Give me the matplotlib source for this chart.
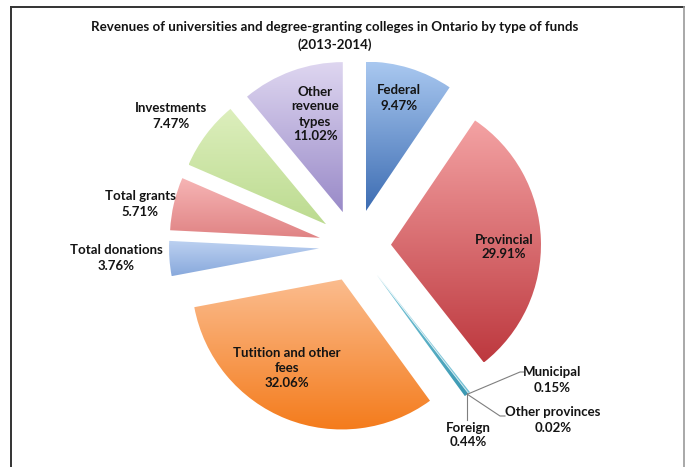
import numpy as np
import matplotlib
matplotlib.use("Agg")
import matplotlib.pyplot as plt
from matplotlib.colors import to_rgba
from matplotlib.lines import Line2D

# Revenue shares by type of funds, 2013-2014 (percent)
categories = ["Federal", "Provincial", "Municipal", "Other provinces", "Foreign",
              "Tutition and other\nfees", "Total donations", "Total grants",
              "Investments", "Other\nrevenue\ntypes"]
shares = [9.47, 29.91, 0.15, 0.02, 0.44, 32.06, 3.76, 5.71, 7.47, 11.02]

# Light (top) and deep (bottom) shade of each slice's gradient
top_colors = ["#a9c8f0", "#f4a3a4", "#a9dbe8", "#8fc6d8", "#7fcbdd",
              "#fbbc8e", "#bdd1f1", "#f6b5b5", "#ddefbd", "#ded6f0"]
bottom_colors = ["#3c6cb2", "#bd383e", "#6fbfd3", "#4a9fba", "#3a98b2",
                 "#f47b1b", "#88a9dc", "#e08384", "#bcdb90", "#998ac8"]

W, H = 688, 467
fig = plt.figure(figsize=(W / 100, H / 100), dpi=100)
ax = fig.add_axes([0, 0, 1, 1])

FONT = ["Lato", "DejaVu Sans"]
TXT = "#141414"

center = (355, H - 246)
radius = 150
offset = 36

wedges, _ = ax.pie(shares, startangle=90, counterclock=False,
                   explode=[offset] * len(shares), radius=radius, center=center,
                   frame=True)

# Vertical gradient fill clipped to each wedge
for w, c0, c1 in zip(wedges, top_colors, bottom_colors):
    verts = w.get_patch_transform().transform(w.get_path().vertices)
    x0, y0 = verts.min(axis=0)
    x1, y1 = verts.max(axis=0)
    t = np.linspace(0, 1, 256)[:, None]
    a, b = np.array(to_rgba(c0)), np.array(to_rgba(c1))
    grad = (a[None, :] * (1 - t) + b[None, :] * t)[:, None, :]
    im = ax.imshow(grad, extent=[x0, x1, y0, y1], origin="upper",
                   aspect="auto", interpolation="bilinear", zorder=1)
    im.set_clip_path(w)
    w.set_facecolor("none")
    w.set_edgecolor("none")

ax.set_xlim(0, W)
ax.set_ylim(0, H)
ax.set_aspect("equal")
ax.axis("off")

def pct(v):
    return f"{v:.2f}%"

# Label centres (pixels from top-left)
label_pos = {
    0: (399, 98),
    1: (504, 247),
    5: (287, 368),
    9: (315, 114),
    8: (171, 116),
    7: (140, 204),
    6: (116, 258),
    2: (552, 380),
    3: (553, 420),
    4: (468, 435),
}
for i, (px, py) in label_pos.items():
    ax.text(px, H - py, f"{categories[i]}\n{pct(shares[i])}", ha="center",
            va="center", fontsize=9.5, fontweight="bold", color=TXT,
            family=FONT, linespacing=1.3, zorder=5)

# Leader lines from the thin slices to their labels
total = sum(shares)
th_start = 90 - 360 * sum(shares[:2]) / total
th_end = 90 - 360 * sum(shares[:5]) / total
mid = np.deg2rad((th_start + th_end) / 2)
tip = (center[0] + (offset + radius) * np.cos(mid),
       center[1] + (offset + radius) * np.sin(mid))
lc = "#7f7f7f"
ax.add_line(Line2D([tip[0], 520, 524], [tip[1], H - 372, H - 372], color=lc, lw=0.8, zorder=4))
ax.add_line(Line2D([tip[0], 500, 505], [tip[1], H - 416, H - 416], color=lc, lw=0.8, zorder=4))
ax.add_line(Line2D([tip[0], tip[0]], [tip[1], H - 420], color=lc, lw=0.8, zorder=4))

ax.text(335, H - 27, "Revenues of universities and degree-granting colleges in Ontario by type of funds",
        ha="center", va="center", fontsize=9.6, fontweight="bold", color=TXT, family=FONT)
ax.text(335, H - 45, "(2013-2014)", ha="center", va="center", fontsize=9.6,
        fontweight="bold", color=TXT, family=FONT)

# Chart frame
fig.add_artist(Line2D([11.5 / W, 11.5 / W], [0, 1 - 6.5 / H], transform=fig.transFigure, color="#333333", lw=1.4))
fig.add_artist(Line2D([11.5 / W, 684 / W], [1 - 6.5 / H, 1 - 6.5 / H], transform=fig.transFigure, color="#333333", lw=1.4))
fig.add_artist(Line2D([684 / W, 684 / W], [0, 1 - 6.5 / H], transform=fig.transFigure, color="#9a9a9a", lw=1.2))

fig.savefig("out.png", dpi=100)
